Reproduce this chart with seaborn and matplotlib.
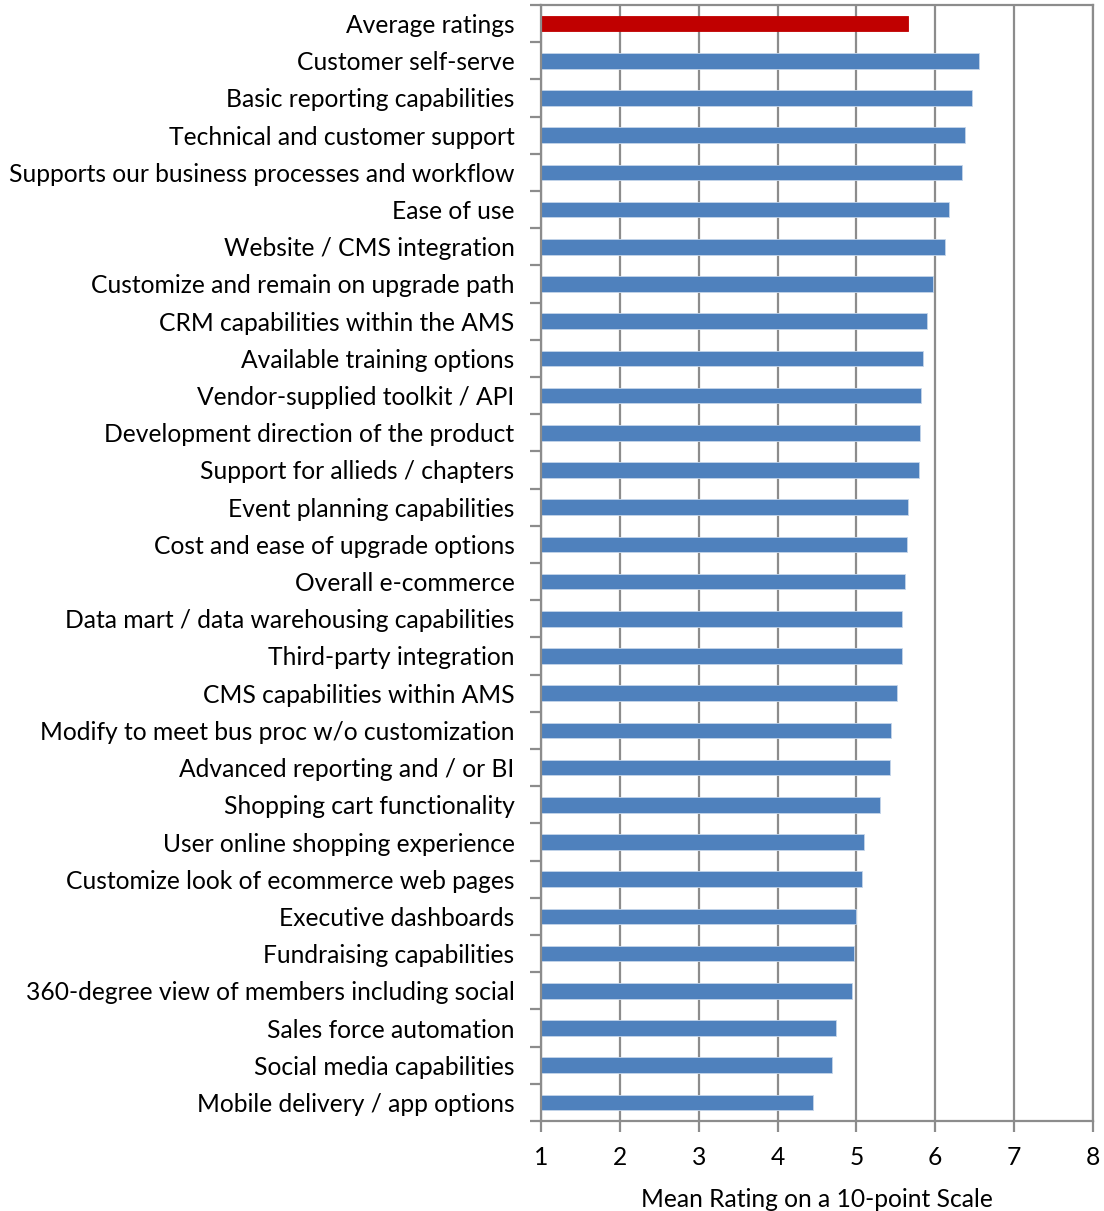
import numpy as np
import pandas as pd
import matplotlib
matplotlib.use("Agg")
import matplotlib.pyplot as plt
from matplotlib.ticker import FixedLocator
import seaborn as sns

categories = [
    "Average ratings",
    "Customer self-serve",
    "Basic reporting capabilities",
    "Technical and customer support",
    "Supports our business processes and workflow",
    "Ease of use",
    "Website / CMS integration",
    "Customize and remain on upgrade path",
    "CRM capabilities within the AMS",
    "Available training options",
    "Vendor-supplied toolkit / API",
    "Development direction of the product",
    "Support for allieds / chapters",
    "Event planning capabilities",
    "Cost and ease of upgrade options",
    "Overall e-commerce",
    "Data mart / data warehousing capabilities",
    "Third-party integration",
    "CMS capabilities within AMS",
    "Modify to meet bus proc w/o customization",
    "Advanced reporting and / or BI",
    "Shopping cart functionality",
    "User online shopping experience",
    "Customize look of ecommerce web pages",
    "Executive dashboards",
    "Fundraising capabilities",
    "360-degree view of members including social",
    "Sales force automation",
    "Social media capabilities",
    "Mobile delivery / app options",
]

ratings = [
    5.66, 6.55, 6.46, 6.38, 6.34, 6.17, 6.13, 5.97, 5.89, 5.84,
    5.82, 5.81, 5.79, 5.66, 5.64, 5.62, 5.58, 5.58, 5.52, 5.44,
    5.43, 5.30, 5.10, 5.07, 5.00, 4.97, 4.94, 4.74, 4.69, 4.45,
]

groups = ["average"] + ["feature"] * (len(categories) - 1)

x_ticks = [1, 2, 3, 4, 5, 6, 7, 8]
x_label = "Mean Rating on a 10-point Scale"

df = pd.DataFrame({"category": categories, "rating": ratings, "group": groups})

sns.set_theme(style="white")
plt.rcParams["font.family"] = ["Lato", "DejaVu Sans"]

fig = plt.figure(figsize=(11.04, 12.11), dpi=100)
ax = fig.add_axes([0.490, 0.0743, 0.500, 0.9216])

palette = {"average": "#C00000", "feature": "#4F81BD"}
sns.barplot(data=df, x="rating", y="category", hue="group", palette=palette,
            dodge=False, width=0.42, legend=False, ax=ax, saturation=1,
            edgecolor="#C5D5EA", linewidth=0.6)
# keep the red bar without a light outline
for patch in ax.patches:
    if patch.get_facecolor()[0] > 0.6:
        patch.set_edgecolor("#C00000")

ax.set_xlim(1, 8)
ax.set_ylim(len(categories) - 0.5, -0.5)
ax.set_xticks(x_ticks)
ax.set_xticklabels([str(t) for t in x_ticks])

grid_color = "#8C8C8C"
ax.xaxis.grid(True, color=grid_color, linewidth=1.6)
ax.set_axisbelow(True)
for s in ax.spines.values():
    s.set_color(grid_color)
    s.set_linewidth(1.6)

# category boundary ticks on the left axis
ax.yaxis.set_minor_locator(FixedLocator(np.arange(-0.5, len(categories), 1.0)))
ax.tick_params(axis="y", which="major", length=0, pad=19, labelsize=17.7,
               labelcolor="black")
ax.tick_params(axis="y", which="minor", left=True, length=8, width=1.6,
               color=grid_color)
ax.tick_params(axis="x", which="major", bottom=True, length=8, width=1.6,
               color=grid_color, pad=10, labelsize=17.7, labelcolor="black")

ax.set_ylabel("")
ax.set_xlabel(x_label, fontsize=17.7, color="black", labelpad=14)

fig.savefig("out.png", dpi=100, facecolor="white")
